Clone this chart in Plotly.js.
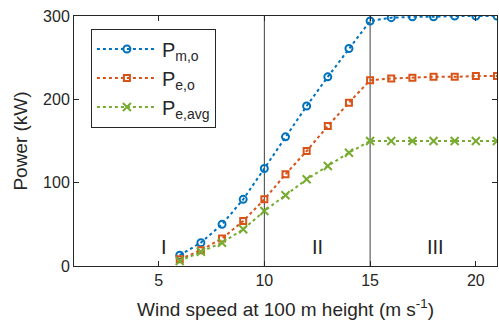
<!DOCTYPE html>
<html><head><meta charset="utf-8">
<script src="https://cdn.plot.ly/plotly-3.0.1.min.js"></script>
<style>html,body{margin:0;padding:0;background:#fff}</style>
</head><body><div id="c" style="width:499px;height:334px"></div>
<script>
const windSpeed = [6,7,8,9,10,11,12,13,14,15,16,17,18,19,20,21];
const pMech = [13,28,50,80,117,155,192,227,261,294,298,299,299,300,300,300];
const pElec = [8,19,33,54,80,110,138,168,196,223,225,226,227,227,228,228];
const pElecAvg = [6,17,28,44,66,85,104,120,136,150,150,150,150,150,150,150];
const seriesNames = ['P<sub>m,o</sub>','P<sub>e,o</sub>','P<sub>e,avg</sub>'];
const regionBounds = [10, 15];
const regionLabels = ['I','II','III'];
const regionLabelX = [5.25, 12.5, 18.1];
const regionLabelY = 23;

const font = 'Liberation Sans, Arial, sans-serif';
const traces = [
 {x: windSpeed, y: pMech, name: seriesNames[0], mode:'lines+markers',
  line:{color:'#0072BD', dash:'dot', width:2},
  marker:{symbol:'circle-open', size:7, color:'#0072BD', line:{width:2}}},
 {x: windSpeed, y: pElec, name: seriesNames[1], mode:'lines+markers',
  line:{color:'#D95319', dash:'dot', width:2},
  marker:{symbol:'square-open', size:6, color:'#D95319', line:{width:2}}},
 {x: windSpeed, y: pElecAvg, name: seriesNames[2], mode:'lines+markers',
  line:{color:'#77AC30', dash:'dot', width:2},
  marker:{symbol:'x-thin-open', size:8, color:'#77AC30', line:{width:2, color:'#77AC30'}}}
];
const shapes = regionBounds.map(b => ({type:'line', xref:'x', yref:'y', x0:b, x1:b, y0:0, y1:300,
  line:{color:'#404040', width:1}, layer:'below'}));
const annotations = regionLabels.map((t,i) => ({x: regionLabelX[i], y: regionLabelY, xref:'x', yref:'y',
  text:t, showarrow:false, font:{family:font, size:20, color:'#262626'}}));
const layout = {
  width:499, height:334, margin:{l:74, r:2, t:16, b:68},
  paper_bgcolor:'#fff', plot_bgcolor:'#fff',
  font:{family:font, color:'#262626'},
  xaxis:{range:[1,21], tickvals:[5,10,15,20], ticks:'inside', ticklen:5, tickcolor:'#262626',
    showgrid:false, zeroline:false, showline:true, linecolor:'#262626', linewidth:1, mirror:'ticks',
    tickfont:{size:16, color:'#262626', family:font},
    title:{text:'Wind speed at 100 m height (m s<sup>-1</sup>)', font:{size:19, family:font, color:'#262626'}, standoff:14}},
  yaxis:{range:[0,300], tickvals:[0,100,200,300], ticks:'inside', ticklen:5, tickcolor:'#262626',
    showgrid:false, zeroline:false, showline:true, linecolor:'#262626', linewidth:1, mirror:'ticks',
    tickfont:{size:16, color:'#262626', family:font},
    title:{text:'Power (kW)', font:{size:19, family:font, color:'#262626'}, standoff:10}},
  showlegend:true,
  legend:{x:0.04, y:0.95, xanchor:'left', yanchor:'top', bordercolor:'#262626', borderwidth:1,
    bgcolor:'#fff', font:{size:20, family:font, color:'#262626'}, tracegroupgap:0, itemwidth:60},
  shapes, annotations
};
Plotly.newPlot('c', traces, layout, {staticPlot:true});
</script></body></html>
